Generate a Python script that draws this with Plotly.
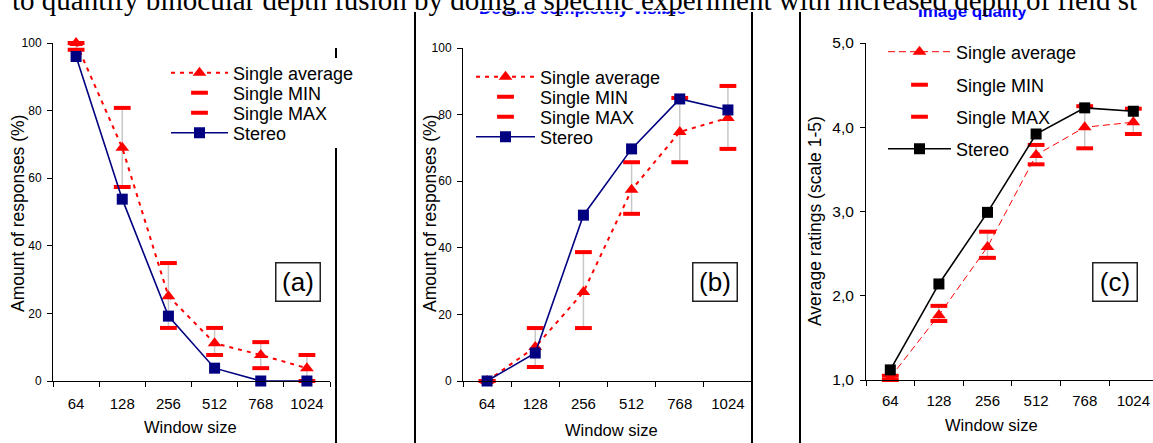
import plotly.graph_objects as go

W, H = 1153, 443

# ---------------- data ----------------
categories = ["64", "128", "256", "512", "768", "1024"]

a_single_avg = [100, 69.0, 25.1, 11.2, 7.7, 3.8]
a_single_min = [98, 57.4, 15.7, 7.7, 3.8, 0]
a_single_max = [100, 80.8, 34.9, 15.7, 11.5, 7.7]
a_stereo = [96, 53.8, 19.2, 3.8, 0, 0]

b_single_avg = [0, 10.2, 26.7, 57.4, 74.8, 79.0]
b_single_min = [0, 4.2, 15.9, 50.2, 65.7, 69.7]
b_single_max = [0, 15.9, 38.7, 65.7, 85.0, 88.6]
b_stereo = [0, 8.4, 49.8, 69.7, 84.7, 81.4]

c_single_avg = [1.03, 1.77, 2.58, 3.67, 4.00, 4.06]
c_single_min = [1.00, 1.70, 2.45, 3.56, 3.75, 3.92]
c_single_max = [1.05, 1.88, 2.76, 3.79, 4.25, 4.22]
c_stereo = [1.12, 2.14, 2.99, 3.92, 4.23, 4.19]

series_names = ["Single average", "Single MIN", "Single MAX", "Stereo"]
panel_labels = ["(a)", "(b)", "(c)"]
pct_title = "Amount of responses (%)"
rating_title = "Average ratings (scale 1-5)"
x_title = "Window size"
sub_b = "Details completely visible"
sub_c = "Image quality"
page_text = "to quantify binocular depth fusion by doing a specific experiment with increased depth of field st"

SANS = "Liberation Sans, Arial, sans-serif"
SERIF = "Liberation Serif, Times New Roman, serif"
RED = "#FF0000"
NAVY = "#000080"


def px(x):
    return x / W


def py(y):
    return 1 - y / H


fig = go.Figure()


def add_panel(xa, ya, avg, mn, mx, st, legends, avg_dash, avg_width, st_color):
    wx, wy = [], []
    for c, lo, hi in zip(categories, mn, mx):
        wx += [c, c, None]
        wy += [lo, hi, None]
    fig.add_trace(go.Scatter(x=wx, y=wy, mode="lines", xaxis=xa, yaxis=ya,
                             line=dict(color="#c8c8c8", width=1.5),
                             showlegend=False, hoverinfo="skip", cliponaxis=False))
    fig.add_trace(go.Scatter(x=categories, y=avg, mode="lines+markers", name=series_names[0],
                             xaxis=xa, yaxis=ya, legend=legends[0], cliponaxis=False,
                             line=dict(color=RED, width=avg_width, dash=avg_dash),
                             marker=dict(symbol="triangle-up", size=12, color=RED)))
    for k, vals in ((1, mn), (2, mx)):
        fig.add_trace(go.Scatter(x=categories, y=vals, mode="markers", name=series_names[k],
                                 xaxis=xa, yaxis=ya, legend=legends[k], cliponaxis=False,
                                 marker=dict(symbol="line-ew", size=12, color=RED,
                                             line=dict(color=RED, width=4))))
    fig.add_trace(go.Scatter(x=categories, y=st, mode="lines+markers", name=series_names[3],
                             xaxis=xa, yaxis=ya, legend=legends[3], cliponaxis=False,
                             line=dict(color=st_color, width=1.6),
                             marker=dict(symbol="square", size=11, color=st_color)))


add_panel("x", "y", a_single_avg, a_single_min, a_single_max, a_stereo,
          ["legend", "legend2", "legend3", "legend4"], "4px,5px", 2, NAVY)
add_panel("x2", "y2", b_single_avg, b_single_min, b_single_max, b_stereo,
          ["legend5", "legend6", "legend7", "legend8"], "4px,5px", 2, NAVY)
add_panel("x3", "y3", c_single_avg, c_single_min, c_single_max, c_stereo,
          ["legend9", "legend10", "legend11", "legend12"], "7px,4px", 1, "#000000")

xcommon = dict(type="category", showline=True, linecolor="black", linewidth=1,
               ticks="outside", ticklen=5, tickcolor="black", tickson="boundaries",
               showgrid=False, zeroline=False, automargin=False, ticklabelstandoff=9,
               tickfont=dict(family=SANS, size=15, color="black"), fixedrange=True)
ycommon = dict(showline=True, linecolor="black", linewidth=1, ticks="outside", ticklen=5,
               tickcolor="black", showgrid=False, zeroline=False, fixedrange=True,
               automargin=False, ticklabelstandoff=3)

layout = dict(
    width=W, height=H, autosize=False,
    margin=dict(l=0, r=0, t=0, b=0, pad=0),
    paper_bgcolor="white", plot_bgcolor="white",
    separators=", ",
    xaxis=dict(xcommon, domain=[px(53), px(330)], range=[-0.5, 5.5], anchor="y"),
    yaxis=dict(ycommon, domain=[py(381), py(43)], range=[0, 100], dtick=20, tick0=0, anchor="x",
               tickfont=dict(family=SANS, size=12, color="black")),
    xaxis2=dict(xcommon, domain=[px(463), px(752)], range=[-0.5, 5.5], anchor="y2"),
    yaxis2=dict(ycommon, domain=[py(381), py(48)], range=[0, 100], dtick=20, tick0=0, anchor="x2",
                tickfont=dict(family=SANS, size=12, color="black")),
    xaxis3=dict(xcommon, domain=[px(866), 1.0], range=[-0.5, 5.405], anchor="y3",
                ticklabelstandoff=7),
    yaxis3=dict(ycommon, domain=[py(380), py(43)], range=[1, 5], dtick=1, tick0=1, anchor="x3",
                tickformat=".1f", tickfont=dict(family=SANS, size=15.5, color="black")),
)

# legends: one per row so rows sit where the original put them
leg_rows = {
    "a": dict(names=["legend", "legend2", "legend3", "legend4"], x=166, ys=[73, 93, 113, 133], iw=57),
    "b": dict(names=["legend5", "legend6", "legend7", "legend8"], x=471, ys=[77, 97, 117, 137], iw=59),
    "c": dict(names=["legend9", "legend10", "legend11", "legend12"], x=883, ys=[52, 85, 117, 149], iw=63),
}
for p in leg_rows.values():
    for nm, yy in zip(p["names"], p["ys"]):
        layout[nm] = dict(x=px(p["x"]), y=py(yy), xanchor="left", yanchor="middle",
                          bgcolor="rgba(0,0,0,0)", borderwidth=0, itemwidth=p["iw"],
                          font=dict(family=SANS, size=18, color="black"))

fig.update_layout(**layout)

ann = []
# axis titles
for cx, cy, txt in ((18, 214, pct_title), (430, 214, pct_title), (815, 221, rating_title)):
    ann.append(dict(x=px(cx), y=py(cy), xref="paper", yref="paper", text=txt, textangle=-90,
                    showarrow=False, xanchor="center", yanchor="middle",
                    font=dict(family=SANS, size=17.5, color="black")))
for cx, cy in ((190, 427), (611, 430), (991, 425)):
    ann.append(dict(x=px(cx), y=py(cy), xref="paper", yref="paper", text=x_title,
                    showarrow=False, xanchor="center", yanchor="middle",
                    font=dict(family=SANS, size=16.5, color="black")))
# panel letters
for cx, lab in ((297.5, panel_labels[0]), (715, panel_labels[1]), (1114.5, panel_labels[2])):
    ann.append(dict(x=px(cx), y=py(281.5), xref="paper", yref="paper", text=lab,
                    showarrow=False, xanchor="center", yanchor="middle",
                    width=41, height=35, borderpad=1, borderwidth=1.5, bordercolor="#222",
                    bgcolor="white", font=dict(family=SANS, size=26, color="black")))
# blue sub-titles (partly hidden beneath the page text)
ann.append(dict(x=px(582), y=py(19.6), xref="paper", yref="paper", text="<b>%s</b>" % sub_b,
                showarrow=False, xanchor="center", yanchor="bottom",
                font=dict(family=SANS, size=17, color="#0000FF")))
ann.append(dict(x=px(972), y=py(22.6), xref="paper", yref="paper", text="<b>%s</b>" % sub_c,
                showarrow=False, xanchor="center", yanchor="bottom",
                font=dict(family=SANS, size=17, color="#0000FF")))
# white covers over the upper half of the blue sub-titles
ann.append(dict(x=px(582), y=py(0), xref="paper", yref="paper", text=" ", showarrow=False,
                xanchor="center", yanchor="top", width=240, height=10, borderpad=0,
                bgcolor="white", font=dict(size=4)))
ann.append(dict(x=px(972), y=py(0), xref="paper", yref="paper", text=" ", showarrow=False,
                xanchor="center", yanchor="top", width=150, height=8.3, borderpad=0,
                bgcolor="white", font=dict(size=4)))
# page text line running across the top edge (drawn last, on top)
ann.append(dict(x=px(10), y=py(18.3), xref="paper", yref="paper", text=page_text,
                showarrow=False, xanchor="left", yanchor="bottom",
                font=dict(family=SERIF, size=29, color="black")))
fig.update_layout(annotations=ann)

# separator lines
shapes = []
for x0, y0, y1 in ((336, 48, 58), (336, 148, 443), (415, 12, 443), (752, 12, 443), (800, 12, 443)):
    shapes.append(dict(type="line", xref="paper", yref="paper", x0=px(x0), x1=px(x0),
                       y0=py(y0), y1=py(y1), line=dict(color="black", width=2)))
fig.update_layout(shapes=shapes)

fig.write_html("out.html", config={"displayModeBar": False},
               post_script="document.body.style.margin='0';document.body.style.overflow='hidden';")
